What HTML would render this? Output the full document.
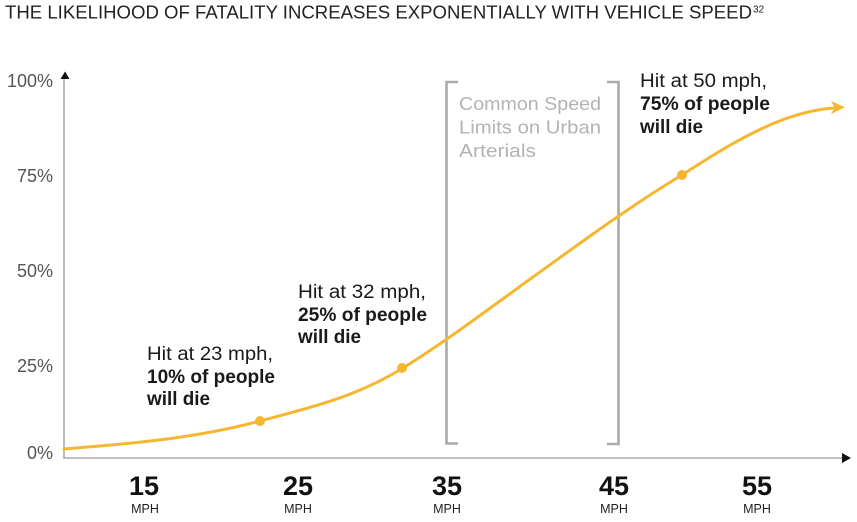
<!DOCTYPE html>
<html>
<head>
<meta charset="utf-8">
<style>
html,body{margin:0;padding:0;background:#fff;}
svg{display:block;}
text{font-family:"Liberation Sans",sans-serif;}
</style>
</head>
<body>
<svg width="857" height="522" viewBox="0 0 857 522" xmlns="http://www.w3.org/2000/svg">
  <rect width="857" height="522" fill="#fff"/>
  <!-- Title -->
  <text x="5" y="18.5" font-size="18" fill="#222" textLength="747" lengthAdjust="spacingAndGlyphs">THE LIKELIHOOD OF FATALITY INCREASES EXPONENTIALLY WITH VEHICLE SPEED</text>
  <text x="753" y="12.5" font-size="10" fill="#222">32</text>

  <!-- Y axis labels -->
  <g font-size="18" fill="#555" text-anchor="end">
    <text x="53" y="87">100%</text>
    <text x="53" y="182">75%</text>
    <text x="53" y="277">50%</text>
    <text x="53" y="372">25%</text>
    <text x="53" y="459">0%</text>
  </g>

  <!-- Axes -->
  <line x1="64" y1="78" x2="64" y2="458" stroke="#aaa" stroke-width="1.6"/>
  <polygon points="60.5,79 65,71.5 69.5,79" fill="#111"/>
  <line x1="63.2" y1="458" x2="844" y2="458" stroke="#aaa" stroke-width="1.6"/>
  <polygon points="842,453 851,458 842,463" fill="#111"/>

  <!-- Bracket -->
  <path d="M458,82 H446.5 V443.5 H458" fill="none" stroke="#aaa" stroke-width="2.6"/>
  <path d="M607,82 H618.5 V444 H607" fill="none" stroke="#aaa" stroke-width="2.6"/>
  <g font-size="18.5" fill="#b3b3b3">
    <text x="459" y="110" textLength="142" lengthAdjust="spacingAndGlyphs">Common Speed</text>
    <text x="459" y="133.5" textLength="142" lengthAdjust="spacingAndGlyphs">Limits on Urban</text>
    <text x="459" y="157" textLength="77" lengthAdjust="spacingAndGlyphs">Arterials</text>
  </g>

  <!-- Curve -->
  <path d="M64,449 C129.3,443.8 194.7,438.6 260,421 C307.7,408.1 355.3,397.6 403,368 C446.3,341.2 489.7,308.2 533,277 C582.7,241.2 632.3,204.8 682,175 C713.7,154.4 745.3,134.7 777,122 C797.3,113.9 817.7,109 836,107.8"
        fill="none" stroke="#F5B731" stroke-width="3" stroke-linecap="round"/>
  <polygon points="831,101 845,107.3 831,114 834.5,107.5" fill="#F5B731"/>
  <circle cx="260" cy="421" r="5" fill="#F5B731"/>
  <circle cx="402" cy="368" r="5" fill="#F5B731"/>
  <circle cx="682" cy="175" r="5" fill="#F5B731"/>

  <!-- Annotations -->
  <g font-size="19" fill="#1a1a1a">
    <text x="147" y="360" textLength="126" lengthAdjust="spacingAndGlyphs">Hit at 23 mph,</text>
    <text x="147" y="383" font-weight="bold" textLength="128" lengthAdjust="spacingAndGlyphs">10% of people</text>
    <text x="147" y="405" font-weight="bold" textLength="63" lengthAdjust="spacingAndGlyphs">will die</text>

    <text x="298" y="298" textLength="128" lengthAdjust="spacingAndGlyphs">Hit at 32 mph,</text>
    <text x="298" y="321" font-weight="bold" textLength="129" lengthAdjust="spacingAndGlyphs">25% of people</text>
    <text x="298" y="343" font-weight="bold" textLength="63" lengthAdjust="spacingAndGlyphs">will die</text>

    <text x="640" y="87" textLength="127" lengthAdjust="spacingAndGlyphs">Hit at 50 mph,</text>
    <text x="640" y="110" font-weight="bold" textLength="130" lengthAdjust="spacingAndGlyphs">75% of people</text>
    <text x="640" y="133" font-weight="bold" textLength="63" lengthAdjust="spacingAndGlyphs">will die</text>
  </g>

  <!-- X labels -->
  <g fill="#111" text-anchor="middle">
    <g font-size="27" font-weight="bold">
      <text x="144" y="495">15</text>
      <text x="298" y="495">25</text>
      <text x="447" y="495">35</text>
      <text x="614" y="495">45</text>
      <text x="757" y="495">55</text>
    </g>
    <g font-size="12.5" fill="#222">
      <text x="145" y="513">MPH</text>
      <text x="298" y="513">MPH</text>
      <text x="447" y="513">MPH</text>
      <text x="614" y="513">MPH</text>
      <text x="757" y="513">MPH</text>
    </g>
  </g>
</svg>
</body>
</html>
